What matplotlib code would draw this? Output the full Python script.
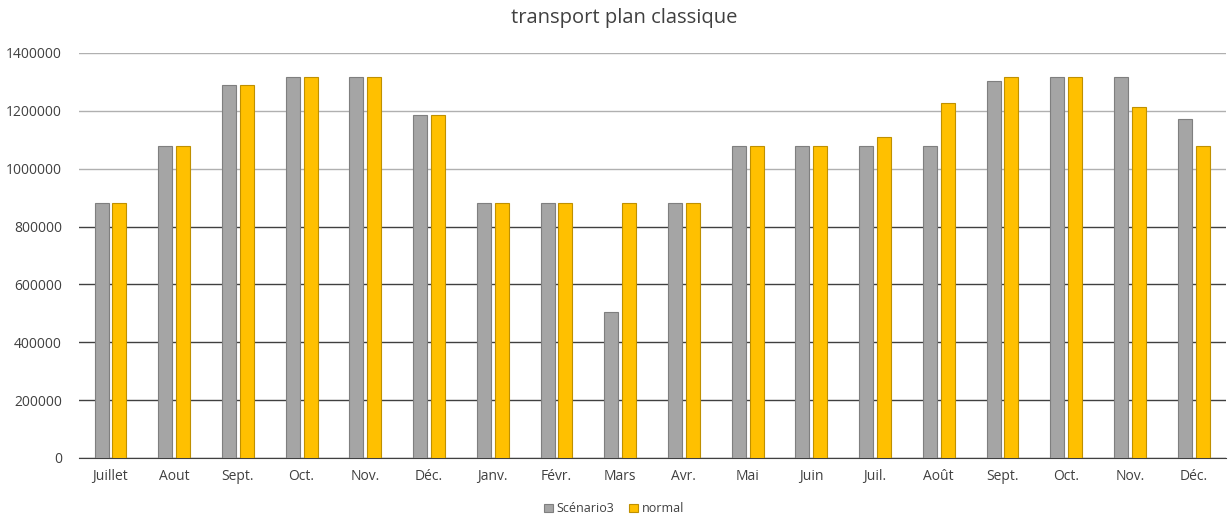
import numpy as np
import matplotlib.pyplot as plt
from matplotlib.ticker import FuncFormatter

# Mois (juillet -> décembre de l'année suivante)
mois = ['Juillet', 'Aout', 'Sept.', 'Oct.', 'Nov.', 'Déc.', 'Janv.', 'Févr.', 'Mars',
        'Avr.', 'Mai', 'Juin', 'Juil.', 'Août', 'Sept.', 'Oct.', 'Nov.', 'Déc.']

# Valeurs
scenario3 = [880000, 1077000, 1290000, 1318000, 1318000, 1186000, 880000, 880000, 505000,
             880000, 1077000, 1077000, 1077000, 1077000, 1303000, 1318000, 1318000, 1172000]
normal = [880000, 1077000, 1290000, 1318000, 1318000, 1186000, 880000, 880000, 880000,
          880000, 1077000, 1077000, 1109000, 1226000, 1318000, 1318000, 1214000, 1080000]

plt.rcParams['font.family'] = ['Open Sans', 'DejaVu Sans']

fig = plt.figure(figsize=(12.28, 5.24), dpi=100)
ax = fig.add_axes([0.064, 0.126, 0.934, 0.773])

x = np.arange(len(mois))
w = 0.22
ax.bar(x - 0.14, scenario3, w, color='#a5a5a5', edgecolor='#7f7f7f', linewidth=0.8,
       label='Scénario3', zorder=3)
ax.bar(x + 0.14, normal, w, color='#ffc000', edgecolor='#bf9000', linewidth=0.8,
       label='normal', zorder=3)

ax.set_xlim(-0.5, len(mois) - 0.5)
ax.set_ylim(0, 1400000)
ax.set_yticks(np.arange(0, 1400001, 200000))
ax.yaxis.set_major_formatter(FuncFormatter(lambda v, p: '%d' % v))
ax.set_xticks(x)
ax.set_xticklabels(mois)
ax.tick_params(length=0, labelsize=10, colors='#404040', pad=8)
ax.tick_params(axis='y', pad=12)

# quadrillage : plus foncé dans le bas comme sur l'original
ax.yaxis.grid(True, zorder=0)
for val, gl in zip(ax.get_yticks(), ax.get_ygridlines()):
    if val <= 800000:
        gl.set_color('#404040')
    else:
        gl.set_color('#b0b0b0')
    gl.set_linewidth(1.0)

for s in ['top', 'right', 'left']:
    ax.spines[s].set_visible(False)
ax.spines['bottom'].set_color('#404040')

fig.text(0.508, 0.965, 'transport plan classique', fontsize=14.5, color='#404040',
         ha='center', va='center')

fig.legend(loc='lower center', ncol=2, frameon=False, fontsize=9,
           bbox_to_anchor=(0.5, -0.005), handlelength=0.7, handleheight=0.7,
           columnspacing=1.2, handletextpad=0.3, labelcolor='#404040')

fig.savefig('out.png', dpi=100)
